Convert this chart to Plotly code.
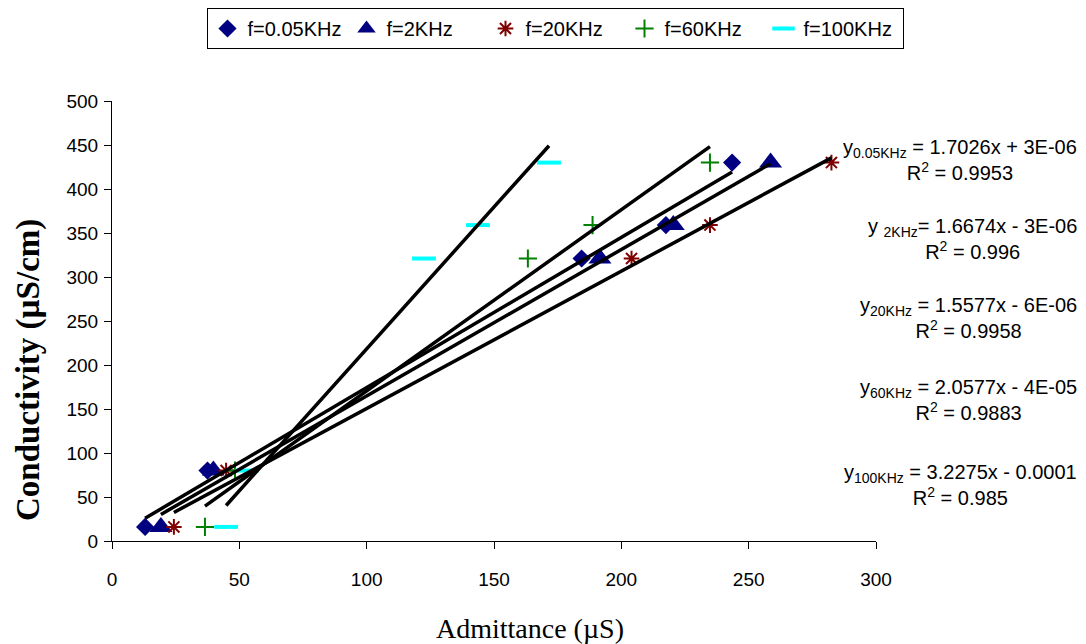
import numpy as np
import plotly.graph_objects as go

# ---- data ----
conductivity = [16, 80, 321, 359, 430]          # µS/cm (shared y values)
adm_005k = [13.0, 37.5, 184.4, 217.5, 243.5]    # f=0.05KHz
adm_2k = [19.2, 39.8, 191.6, 220.4, 258.6]      # f=2KHz
adm_20k = [24.3, 44.8, 204.0, 234.8, 282.5]     # f=20KHz
adm_60k = [36.5, 48.3, 163.3, 188.7, 234.8]     # f=60KHz
adm_100k = [44.8, 52.9, 122.5, 143.7, 171.6]    # f=100KHz

series_names = ["f=0.05KHz", "f=2KHz", "f=20KHz", "f=60KHz", "f=100KHz"]
series_x = [adm_005k, adm_2k, adm_20k, adm_60k, adm_100k]

eq_texts = [
    "y<sub>0.05KHz</sub> = 1.7026x + 3E-06<br>R<sup>2</sup> = 0.9953",
    "y <sub>2KHz</sub>= 1.6674x - 3E-06<br>R<sup>2</sup> = 0.996",
    "y<sub>20KHz</sub> = 1.5577x - 6E-06<br>R<sup>2</sup> = 0.9958",
    "y<sub>60KHz</sub> = 2.0577x - 4E-05<br>R<sup>2</sup> = 0.9883",
    "y<sub>100KHz</sub> = 3.2275x - 0.0001<br>R<sup>2</sup> = 0.985",
]

x_ticks = [0, 50, 100, 150, 200, 250, 300]
y_ticks = [0, 50, 100, 150, 200, 250, 300, 350, 400, 450, 500]

# ---- styles ----
markers = [
    dict(symbol="diamond", size=14, color="#000080", line=dict(width=0)),
    dict(symbol="triangle-up", size=20, color="#000080", line=dict(width=0)),
    dict(symbol="asterisk-open", size=13, color="#800000", line=dict(width=2, color="#800000")),
    dict(symbol="cross-thin-open", size=13, color="#008000", line=dict(width=2, color="#008000")),
    dict(symbol="line-ew-open", size=17, color="#00FFFF", line=dict(width=4, color="#00FFFF")),
]

# page body has an 8px margin: figure origin sits at (8, 8) on screen
W, H = 1078, 636
L, T = 104, 93
PW, PH = 764, 440

fig = go.Figure()

for name, xs, mk in zip(series_names, series_x, markers):
    fig.add_trace(go.Scatter(x=xs, y=conductivity, mode="markers", name=name,
                             marker=mk, cliponaxis=False))

# linear trendlines fitted from the data
for xs in series_x:
    a, b = np.polyfit(xs, conductivity, 1)
    xl = np.array([min(xs), max(xs)])
    fig.add_trace(go.Scatter(x=xl, y=a * xl + b, mode="lines", showlegend=False,
                             line=dict(color="black", width=3.5), hoverinfo="skip",
                             cliponaxis=False))

# equation annotations (right side)
eq_y = [433, 343, 253, 160, 64]
for txt, yy in zip(eq_texts, eq_y):
    fig.add_annotation(text=txt, xref="paper", yref="y", x=(1071 - L) / PW, y=yy,
                       xanchor="right", yanchor="middle", align="center", showarrow=False,
                       font=dict(family="Liberation Sans, Arial", size=20, color="black"))

# axis titles
fig.add_annotation(text="Admittance (µS)", xref="paper", yref="paper",
                   x=(522 - L) / PW, y=(T + PH - 620) / PH, xanchor="center", yanchor="middle",
                   showarrow=False,
                   font=dict(family="Liberation Serif, Times New Roman", size=28, color="black"))
fig.add_annotation(text="<b>Conductivity (µS/cm)</b>", xref="paper", yref="paper",
                   x=(20 - L) / PW, y=(T + PH - 362) / PH, xanchor="center", yanchor="middle",
                   textangle=-90, showarrow=False,
                   font=dict(family="Liberation Serif, Times New Roman", size=33, color="black"))

axis_font = dict(family="Liberation Sans, Arial", size=19, color="black")
fig.update_xaxes(range=[0, 300], tickvals=x_ticks, ticks="outside", ticklen=7, tickwidth=1,
                 tickcolor="black", showline=True, linecolor="black", linewidth=1,
                 showgrid=False, zeroline=False, tickfont=axis_font, ticklabelstandoff=14)
fig.update_yaxes(range=[0, 500], tickvals=y_ticks, ticks="outside", ticklen=7, tickwidth=1,
                 tickcolor="black", showline=True, linecolor="black", linewidth=1,
                 showgrid=False, zeroline=False, tickfont=axis_font, ticklabelstandoff=2)

fig.update_layout(
    width=W, height=H,
    margin=dict(l=L, r=W - L - PW, t=T, b=H - T - PH),
    paper_bgcolor="white", plot_bgcolor="white",
    showlegend=True,
    legend=dict(orientation="h", xref="container", yref="container",
                x=(555 - 8) / W, y=1.0, xanchor="center", yanchor="top",
                bordercolor="black", borderwidth=1, bgcolor="white",
                font=dict(family="Liberation Sans, Arial", size=20, color="black"),
                itemwidth=30, tracegroupgap=0, entrywidth=94, entrywidthmode="pixels"),
)

fig.write_html("out.html")
